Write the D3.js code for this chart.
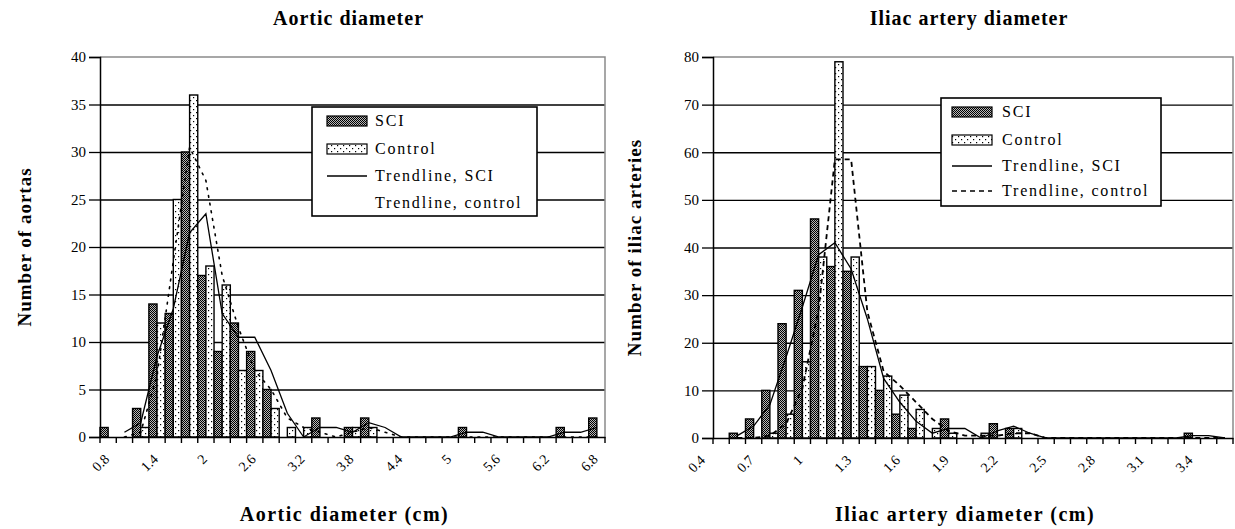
<!DOCTYPE html>
<html>
<head>
<meta charset="utf-8">
<script src="https://cdn.jsdelivr.net/npm/d3@7"></script>
<style>
  body { margin: 0; background: #fff; }
  svg { display: block; font-family: "Liberation Serif", "DejaVu Serif", serif; }
</style>
</head>
<body>
<div id="graf"></div>
<script>
// Aortic diameter histogram (bins of 0.2 cm)
const aortaCats = [0.8, 1, 1.2, 1.4, 1.6, 1.8, 2, 2.2, 2.4, 2.6, 2.8, 3, 3.2, 3.4, 3.6, 3.8,
  4, 4.2, 4.4, 4.6, 4.8, 5, 5.2, 5.4, 5.6, 5.8, 6, 6.2, 6.4, 6.6, 6.8]
const aortaSCI = [1, 0, 3, 14, 13, 30, 17, 9, 12, 9, 5, 0, 0, 2, 0, 1,
  2, 0, 0, 0, 0, 0, 1, 0, 0, 0, 0, 0, 1, 0, 2]
const aortaControl = [0, 0, 1, 12, 25, 36, 18, 16, 7, 7, 3, 1, 1, 0, 0, 1,
  1, 0, 0, 0, 0, 0, 0, 0, 0, 0, 0, 0, 0, 0, 0]
const aortaXLabels = [0.8, 1.4, 2, 2.6, 3.2, 3.8, 4.4, 5, 5.6, 6.2, 6.8]
const aortaYTicks = [0, 5, 10, 15, 20, 25, 30, 35, 40]

// Iliac artery diameter histogram (bins of 0.1 cm)
const iliacCats = [0.4, 0.5, 0.6, 0.7, 0.8, 0.9, 1, 1.1, 1.2, 1.3, 1.4, 1.5, 1.6, 1.7, 1.8, 1.9,
  2, 2.1, 2.2, 2.3, 2.4, 2.5, 2.6, 2.7, 2.8, 2.9, 3, 3.1, 3.2, 3.3, 3.4, 3.5]
const iliacSCI = [0, 1, 4, 10, 24, 31, 46, 36, 35, 15, 10, 5, 2, 0, 4, 0,
  0, 3, 2, 0, 0, 0, 0, 0, 0, 0, 0, 0, 0, 1, 0, 0]
const iliacControl = [0, 0, 0, 1, 5, 16, 38, 79, 38, 15, 13, 9, 6, 2, 1, 0,
  1, 0, 2, 0, 0, 0, 0, 0, 0, 0, 0, 0, 0, 0, 0, 0]
const iliacXLabels = [0.4, 0.7, 1, 1.3, 1.6, 1.9, 2.2, 2.5, 2.8, 3.1, 3.4]
const iliacYTicks = [0, 10, 20, 30, 40, 50, 60, 70, 80]

const series = ["SCI", "Control"]

const svg = d3.select("#graf")
  .append("svg")
  .attr("width", 1235)
  .attr("height", 529)

// Patterns de barras
const defs = svg.append("defs")
const pSci = defs.append("pattern")
  .attr("id", "pSci")
  .attr("patternUnits", "userSpaceOnUse")
  .attr("width", 2)
  .attr("height", 2)
pSci.append("rect").attr("width", 2).attr("height", 2).attr("fill", "#b8b8b8")
;[[0, 0], [1, 1]].forEach(([px, py]) =>
  pSci.append("rect").attr("x", px).attr("y", py).attr("width", 1).attr("height", 1).attr("fill", "#000"))

const pCtrl = defs.append("pattern")
  .attr("id", "pCtrl")
  .attr("patternUnits", "userSpaceOnUse")
  .attr("width", 6)
  .attr("height", 6)
pCtrl.append("rect").attr("width", 6).attr("height", 6).attr("fill", "#fff")
;[[1, 1], [4, 4]].forEach(([px, py]) =>
  pCtrl.append("rect").attr("x", px).attr("y", py).attr("width", 1.2).attr("height", 1.2).attr("fill", "#000"))

const fills = { SCI: "url(#pSci)", Control: "url(#pCtrl)" }

const charts = [
  {
    cats: aortaCats, sci: aortaSCI, ctrl: aortaControl,
    xLabels: aortaXLabels, yTicks: aortaYTicks,
    left: 100, right: 605, top: 57, bottom: 437,
    title: "Aortic diameter", xTitle: "Aortic diameter (cm)", yTitle: "Number of aortas",
    yTitleX: 24, labelShift: -5,
    ctrlDash: "1.8,6", ctrlWidth: 1.6, legendCtrlLine: false,
    legend: { x: 312, y: 107, w: 225, h: 109, sx: 327, tx: 375, rows: [121, 149, 176, 203] }
  },
  {
    cats: iliacCats, sci: iliacSCI, ctrl: iliacControl,
    xLabels: iliacXLabels, yTicks: iliacYTicks,
    left: 713, right: 1233, top: 57, bottom: 438,
    title: "Iliac artery diameter", xTitle: "Iliac artery diameter (cm)", yTitle: "Number of iliac arteries",
    yTitleX: 634, labelShift: -22,
    ctrlDash: "5,4", ctrlWidth: 1.8, legendCtrlLine: true,
    legend: { x: 941, y: 98, w: 220, h: 108, sx: 952, tx: 1002, rows: [112, 140, 166, 191] }
  }
]

charts.forEach((c) => {
  const x = d3.scaleBand()
    .domain(c.cats)
    .range([c.left, c.right])
    .paddingInner(0)
    .paddingOuter(0)

  const xs = d3.scaleBand()
    .domain(series)
    .range([0, x.bandwidth()])

  const y = d3.scaleLinear()
    .domain([0, d3.max(c.yTicks)])
    .range([c.bottom, c.top])

  const g = svg.append("g")

  // Rejilla
  const grid = g.append("g")
    .attr("transform", `translate(${c.left}, 0)`)
    .call(d3.axisLeft(y).tickValues(c.yTicks.slice(1, -1)).tickSize(-(c.right - c.left)).tickFormat(""))
  grid.select(".domain").remove()
  grid.selectAll("line").attr("stroke", "#000").attr("stroke-width", 1.3)

  // Borde superior y derecho
  g.append("path")
    .attr("d", `M${c.left},${y(d3.max(c.yTicks))}H${c.right}V${c.bottom}`)
    .attr("fill", "none")
    .attr("stroke", "#8a8a8a")
    .attr("stroke-width", 1.5)

  // Barras
  const rows = []
  c.cats.forEach((cat, i) => {
    rows.push({ cat, s: "SCI", v: c.sci[i] })
    rows.push({ cat, s: "Control", v: c.ctrl[i] })
  })

  g.append("g")
    .selectAll("rect")
    .data(rows.filter((d) => d.v > 0))
    .join("rect")
    .attr("x", (d) => x(d.cat) + xs(d.s))
    .attr("y", (d) => y(d.v))
    .attr("width", xs.bandwidth())
    .attr("height", (d) => y(0) - y(d.v))
    .attr("fill", (d) => fills[d.s])
    .attr("stroke", "#000")
    .attr("stroke-width", 1.4)

  // Tendencias: media movil de 2 periodos
  const movAvg = (vals) => vals.map((v, i) => (i === 0 ? null : (vals[i - 1] + v) / 2))
  const linea = d3.line()
    .defined((d) => d.v != null)
    .x((d) => x(d.cat) + x.bandwidth() / 2)
    .y((d) => y(d.v))

  const maSci = movAvg(c.sci).map((v, i) => ({ cat: c.cats[i], v }))
  const maCtrl = movAvg(c.ctrl).map((v, i) => ({ cat: c.cats[i], v }))

  g.append("path")
    .attr("d", linea(maSci))
    .attr("fill", "none")
    .attr("stroke", "#000")
    .attr("stroke-width", 1.3)

  g.append("path")
    .attr("d", linea(maCtrl))
    .attr("fill", "none")
    .attr("stroke", "#000")
    .attr("stroke-width", c.ctrlWidth)
    .attr("stroke-dasharray", c.ctrlDash)
    .attr("stroke-linecap", c.ctrlDash === "5,4" ? "butt" : "round")

  // Eje Y
  const yAxisG = g.append("g")
    .attr("transform", `translate(${c.left}, 0)`)
    .call(d3.axisLeft(y).tickValues(c.yTicks).tickSize(11).tickPadding(3))
  yAxisG.select(".domain").attr("stroke", "#000").attr("stroke-width", 1.5)
  yAxisG.selectAll("line").attr("stroke", "#000").attr("stroke-width", 1.3)
  yAxisG.selectAll("text")
    .attr("font-family", "Liberation Serif, serif")
    .attr("font-size", 15)
    .attr("fill", "#000")

  // Eje X
  const xAxisG = g.append("g")
    .attr("transform", `translate(0, ${c.bottom})`)
    .call(d3.axisBottom(x).tickSize(0).tickFormat(""))
  xAxisG.select(".domain").attr("stroke", "#000").attr("stroke-width", 1.6)

  g.append("g")
    .selectAll("line")
    .data(c.cats.concat([null]))
    .join("line")
    .attr("x1", (d) => (d == null ? c.right : x(d)))
    .attr("x2", (d) => (d == null ? c.right : x(d)))
    .attr("y1", c.bottom)
    .attr("y2", c.bottom + 6)
    .attr("stroke", "#000")
    .attr("stroke-width", 1.4)

  g.append("g")
    .selectAll("text")
    .data(c.xLabels)
    .join("text")
    .attr("transform", (d) => `translate(${x(d) + x.bandwidth() / 2 + c.labelShift}, ${c.bottom + 16}) rotate(-45)`)
    .attr("text-anchor", "end")
    .attr("dy", "0.7em")
    .attr("font-size", 14)
    .text((d) => d)

  // Titulos
  const mid = (c.left + c.right) / 2
  g.append("text")
    .attr("x", mid - 4)
    .attr("y", 25)
    .attr("text-anchor", "middle")
    .attr("font-size", 20)
    .attr("font-weight", "bold")
    .attr("letter-spacing", 1)
    .text(c.title)

  g.append("text")
    .attr("x", mid - 8)
    .attr("y", 521)
    .attr("text-anchor", "middle")
    .attr("font-size", 20)
    .attr("font-weight", "bold")
    .attr("letter-spacing", 1.5)
    .text(c.xTitle)

  g.append("text")
    .attr("transform", `translate(${c.yTitleX}, ${(c.top + c.bottom) / 2}) rotate(-90)`)
    .attr("text-anchor", "middle")
    .attr("dy", "0.35em")
    .attr("font-size", 19)
    .attr("font-weight", "bold")
    .attr("letter-spacing", 1)
    .text(c.yTitle)

  // Leyenda
  const L = c.legend
  const leg = g.append("g")
  leg.append("rect")
    .attr("x", L.x)
    .attr("y", L.y)
    .attr("width", L.w)
    .attr("height", L.h)
    .attr("fill", "#fff")
    .attr("stroke", "#000")
    .attr("stroke-width", 1.6)

  series.forEach((s, i) => {
    leg.append("rect")
      .attr("x", L.sx)
      .attr("y", L.rows[i] - 5)
      .attr("width", 40)
      .attr("height", 10)
      .attr("fill", fills[s])
      .attr("stroke", "#000")
      .attr("stroke-width", 1.2)
  })

  leg.append("line")
    .attr("x1", L.sx).attr("x2", L.sx + 40)
    .attr("y1", L.rows[2]).attr("y2", L.rows[2])
    .attr("stroke", "#000").attr("stroke-width", 1.3)

  if (c.legendCtrlLine) {
    leg.append("line")
      .attr("x1", L.sx).attr("x2", L.sx + 40)
      .attr("y1", L.rows[3]).attr("y2", L.rows[3])
      .attr("stroke", "#000").attr("stroke-width", 1.5)
      .attr("stroke-dasharray", "5,4")
  }

  const legLabels = ["SCI", "Control", "Trendline, SCI", "Trendline, control"]
  leg.selectAll("text.lab")
    .data(legLabels)
    .join("text")
    .attr("class", "lab")
    .attr("x", L.tx)
    .attr("y", (d, i) => L.rows[i] + 5)
    .attr("font-size", 16)
    .attr("letter-spacing", 1.8)
    .text((d) => d)
})
</script>
</body>
</html>
